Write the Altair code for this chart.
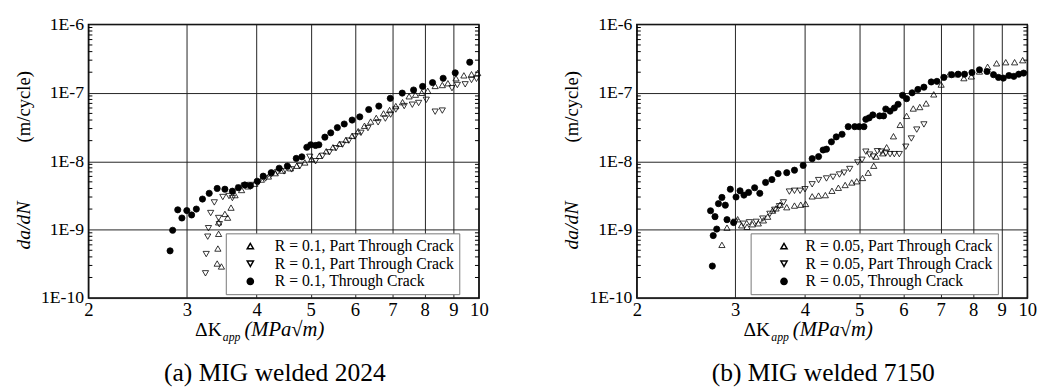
import altair as alt
import pandas as pd

# ---------------- data: panel (a) MIG welded 2024 ----------------
A_UP_K = [3.40, 3.46, 3.41, 3.42, 3.42, 3.51, 3.55, 3.60, 3.66, 3.76, 3.86, 3.97, 4.08, 4.20, 4.32,
          4.45, 4.60, 4.72, 4.88, 5.02, 5.18, 5.33, 5.48, 5.63, 5.78, 5.93, 6.08, 6.24, 6.40, 6.55,
          6.75, 6.92, 7.10, 7.30, 7.50, 7.70, 7.90, 8.10, 8.35, 8.60, 8.80, 9.10, 9.40, 9.70, 9.95]
A_UP_R = [3.2e-10, 2.9e-10, 5.3e-10, 8.7e-10, 1.28e-9, 1.7e-9, 1.5e-9, 2.1e-9, 3.2e-9, 3.8e-9,
          4.3e-9, 4.7e-9, 5.4e-9, 6.0e-9, 6.7e-9, 7.3e-9, 7.9e-9, 8.6e-9, 9.6e-9, 1.08e-8,
          1.2e-8, 1.4e-8, 1.6e-8, 1.8e-8, 2.05e-8, 2.35e-8, 2.75e-8, 3.3e-8, 3.8e-8, 4.3e-8,
          5.0e-8, 5.6e-8, 6.4e-8, 7.3e-8, 8.9e-8, 9.4e-8, 1.0e-7, 1.07e-7, 1.26e-7, 1.3e-7,
          1.38e-7, 1.63e-7, 1.8e-7, 1.87e-7, 1.95e-7]

A_DN_K = [3.24, 3.25, 3.27, 3.28, 3.31, 3.36, 3.42, 3.43, 3.48, 3.57, 3.62, 3.72, 3.80, 3.90, 4.03,
          4.15, 4.25, 4.36, 4.48, 4.62, 4.78, 4.98, 5.10, 5.25, 5.40, 5.55, 5.70, 5.85, 6.00, 6.15,
          6.33, 6.60, 6.80, 6.95, 7.10, 7.35, 7.60, 7.80, 8.05, 8.35, 8.60, 8.95, 9.15, 9.45, 9.70, 9.90]
A_DN_R = [2.3e-10, 4.4e-10, 7.9e-10, 1.05e-9, 1.75e-9, 2.5e-9, 1.48e-9, 1.2e-9, 3.0e-9, 3.1e-9,
          2.9e-9, 4.1e-9, 4.4e-9, 4.5e-9, 4.9e-9, 5.6e-9, 6.4e-9, 6.9e-9, 7.1e-9, 7.6e-9,
          8.5e-9, 1.16e-8, 1.0e-8, 1.2e-8, 1.35e-8, 1.55e-8, 1.75e-8, 2.0e-8, 2.3e-8, 2.6e-8,
          3.05e-8, 3.7e-8, 4.2e-8, 4.8e-8, 5.7e-8, 6.4e-8, 6.7e-8, 7.1e-8, 7.9e-8, 5.3e-8,
          5.5e-8, 1.17e-7, 1.3e-7, 1.33e-7, 1.54e-7, 1.6e-7]

A_C_K = [2.80, 2.83, 2.89, 2.94, 3.00, 3.06, 3.12, 3.20, 3.29, 3.40, 3.51, 3.62, 3.71, 3.81, 3.90,
         4.01, 4.11, 4.25, 4.39, 4.54, 4.71, 4.82, 4.92, 5.00, 5.10, 5.17, 5.30, 5.43, 5.58, 5.74,
         5.93, 6.12, 6.35, 6.62, 6.94, 7.29, 7.64, 7.93, 8.26, 8.63, 9.07, 9.63]
A_C_R = [4.9e-10, 9.8e-10, 1.95e-9, 1.48e-9, 1.9e-9, 1.64e-9, 2.0e-9, 2.8e-9, 3.4e-9, 4.0e-9,
         3.9e-9, 3.65e-9, 4.1e-9, 4.5e-9, 4.4e-9, 5.1e-9, 6.05e-9, 6.8e-9, 7.9e-9, 8.5e-9,
         1.1e-8, 1.16e-8, 1.6e-8, 1.74e-8, 1.7e-8, 1.74e-8, 2.25e-8, 2.6e-8, 3.1e-8, 3.5e-8,
         4.0e-8, 4.45e-8, 5.7e-8, 6.4e-8, 8.3e-8, 9.9e-8, 1.1e-7, 1.24e-7, 1.41e-7, 1.63e-7,
         1.96e-7, 2.8e-7]

# ---------------- data: panel (b) MIG welded 7150 ----------------
B_UP_K = [2.84, 2.90, 3.03, 3.08, 3.15, 3.22, 3.30, 3.37, 3.43, 3.50, 3.55, 3.61, 3.71, 3.83, 3.93,
          4.01, 4.12, 4.23, 4.35, 4.47, 4.59, 4.72, 4.85, 4.95, 5.07, 5.19, 5.31, 5.36, 5.51, 5.60,
          5.76, 5.92, 6.08, 6.25, 6.42, 6.59, 6.80, 7.01, 7.25, 7.47, 7.70, 7.94, 8.21, 8.49, 8.81,
          9.15, 9.49, 9.81]
B_UP_R = [6.0e-10, 1.07e-9, 1.42e-9, 1.16e-9, 1.1e-9, 1.2e-9, 1.24e-9, 1.37e-9, 1.55e-9, 1.9e-9,
          2.05e-9, 2.32e-9, 2.13e-9, 2.25e-9, 2.32e-9, 2.38e-9, 3.07e-9, 3.15e-9, 3.2e-9, 3.7e-9,
          4.1e-9, 4.5e-9, 4.9e-9, 5.1e-9, 5.7e-9, 6.8e-9, 8.6e-9, 1.17e-8, 1.31e-8, 1.6e-8,
          2.32e-8, 3.4e-8, 4.6e-8, 5.9e-8, 6.2e-8, 7.0e-8, 9.5e-8, 1.32e-7, 1.87e-7, 1.87e-7,
          1.64e-7, 1.74e-7, 2.05e-7, 2.4e-7, 2.7e-7, 2.8e-7, 2.8e-7, 3.0e-7]

B_DN_K = [3.00, 3.10, 3.18, 3.27, 3.36, 3.46, 3.53, 3.60, 3.66, 3.75, 3.83, 3.92, 4.00, 4.12, 4.23,
          4.37, 4.49, 4.61, 4.70, 4.81, 4.97, 5.06, 5.14, 5.22, 5.30, 5.39, 5.48, 5.58, 5.68, 5.78,
          5.90, 6.06, 6.20, 6.34, 6.53]
B_DN_R = [1.3e-9, 1.22e-9, 1.28e-9, 1.3e-9, 1.45e-9, 1.7e-9, 1.95e-9, 2.2e-9, 2.5e-9, 3.6e-9,
          3.7e-9, 3.7e-9, 3.9e-9, 4.6e-9, 5.3e-9, 5.6e-9, 5.9e-9, 6.4e-9, 6.8e-9, 7.7e-9,
          9.6e-9, 1.05e-8, 1.38e-8, 1.25e-8, 1.17e-8, 1.4e-8, 1.38e-8, 1.3e-8, 1.27e-8, 1.27e-8,
          1.27e-8, 1.63e-8, 2.15e-8, 2.9e-8, 3.45e-8]

B_C_K = [2.73, 2.74, 2.78, 2.71, 2.76, 2.80, 2.84, 2.88, 2.90, 2.94, 2.98, 3.01, 3.06, 3.11, 3.17,
         3.25, 3.32, 3.40, 3.49, 3.58, 3.71, 3.83, 3.97, 4.12, 4.23, 4.31, 4.37, 4.46, 4.55, 4.66,
         4.78, 4.91, 5.00, 5.10, 5.14, 5.21, 5.29, 5.44, 5.53, 5.58, 5.68, 5.78, 5.87, 5.98, 6.08,
         6.22, 6.37, 6.53, 6.73, 6.89, 7.09, 7.32, 7.52, 7.72, 7.96, 8.21, 8.47, 8.70, 8.88, 9.06,
         9.27, 9.46, 9.65, 9.85]
B_C_R = [2.94e-10, 8.2e-10, 1.02e-9, 1.89e-9, 1.55e-9, 2.4e-9, 2.96e-9, 2.28e-9, 1.4e-9, 3.9e-9,
         1.27e-9, 3.0e-9, 3.7e-9, 3.2e-9, 3.5e-9, 4.1e-9, 3.4e-9, 4.9e-9, 5.4e-9, 6.6e-9,
         6.8e-9, 7.4e-9, 8.7e-9, 1.09e-8, 1.17e-8, 1.46e-8, 1.5e-8, 1.92e-8, 2.27e-8, 2.48e-8,
         3.2e-8, 3.2e-8, 3.2e-8, 3.2e-8, 4.1e-8, 4.3e-8, 4.75e-8, 4.6e-8, 4.6e-8, 5.8e-8,
         5.4e-8, 6.0e-8, 6.8e-8, 9.2e-8, 8.2e-8, 1.0e-7, 1.12e-7, 1.21e-7, 1.44e-7, 1.47e-7,
         1.68e-7, 1.84e-7, 1.87e-7, 1.87e-7, 1.98e-7, 2.17e-7, 2.05e-7, 1.84e-7, 1.68e-7, 1.64e-7,
         1.79e-7, 1.74e-7, 1.87e-7, 1.94e-7]

X_TICKS = [2, 3, 4, 5, 6, 7, 8, 9, 10]
Y_TICKS = [1e-10, 1e-9, 1e-8, 1e-7, 1e-6]
Y_MINOR = [k * 10.0 ** e for e in range(-10, -6) for k in range(2, 10)]

W, H = 398, 279
SERIF = "Liberation Serif"


def text_layer(s, x, y, size, style="normal", align="center", angle=0, baseline="middle"):
    props = dict(font=SERIF, fontSize=size, fontStyle=style, align=align,
                 baseline=baseline, color="black")
    if angle:
        props["angle"] = angle
    return alt.Chart(alt.Data(values=[{"t": s}])).mark_text(**props).encode(
        text=alt.Text("t:N"), x=alt.value(x), y=alt.value(y)
    )


def panel(tag, up_k, up_r, dn_k, dn_r, c_k, c_r, rtext, legend_x, sym_off, lab_off, caption):
    series = [tag + "u", tag + "d", tag + "c"]
    df = pd.DataFrame({
        "K": up_k + dn_k + c_k,
        "rate": up_r + dn_r + c_r,
        "series": [series[0]] * len(up_k) + [series[1]] * len(dn_k) + [series[2]] * len(c_k),
    })
    xs = alt.Scale(type="log", domain=[2, 10], nice=False)
    ys = alt.Scale(type="log", domain=[1e-10, 1e-6], nice=False)

    part = f"R = {rtext}, Part Through Crack"
    thru = f"R = {rtext}, Through Crack"
    lab_expr = f"datum.value == '{series[2]}' ? '{thru}' : '{part}'"
    leg = alt.Legend(
        title=None, orient="none", legendX=legend_x, legendY=213,
        fillColor="white", strokeColor="#777777", padding=5,
        labelFont=SERIF, labelFontSize=16, labelColor="black", labelExpr=lab_expr,
        labelLimit=400, symbolSize=40, symbolOffset=sym_off,
        rowPadding=2, labelOffset=lab_off,
    )

    pts = alt.Chart(df).mark_point(filled=True, stroke="black", strokeWidth=0.8,
                                   opacity=1, size=40).encode(
        x=alt.X("K:Q", scale=xs, axis=alt.Axis(
            values=X_TICKS, format="d", grid=True, gridColor="#222222", gridWidth=1,
            ticks=False, domain=False, title=None, labelFont=SERIF, labelFontSize=19,
            labelColor="black", labelPadding=3, labelFlush=False, labelOverlap=False)),
        y=alt.Y("rate:Q", scale=ys, axis=alt.Axis(
            values=Y_TICKS, labelExpr="'1E' + round(log(datum.value) / LN10)",
            grid=True, gridColor="#222222", gridWidth=1, ticks=False, domain=False,
            title=None, labelFont=SERIF, labelFontSize=18, labelColor="black",
            labelPadding=5, labelFlush=False, labelOverlap=False)),
        shape=alt.Shape("series:N", scale=alt.Scale(
            domain=series, range=["triangle-up", "triangle-down", "circle"]), legend=leg),
        fill=alt.Fill("series:N", scale=alt.Scale(
            domain=series, range=["transparent", "transparent", "black"]), legend=leg),
    )

    # minor log ticks pointing into the frame on both sides
    minor = pd.DataFrame({"m": Y_MINOR})
    tick_l = alt.Chart(minor).mark_rule(color="black", strokeWidth=1).encode(
        y=alt.Y("m:Q", scale=ys, axis=None), x=alt.value(0), x2=alt.value(4))
    tick_r = alt.Chart(minor).mark_rule(color="black", strokeWidth=1).encode(
        y=alt.Y("m:Q", scale=ys, axis=None), x=alt.value(W - 4), x2=alt.value(W))

    texts = [
        text_layer("(m/cycle)", -66, 84, 19, angle=270),
        text_layer("da/dN", -66, 205, 20, style="italic", angle=270),
        text_layer("\u0394K", 136, 318, 20, align="right", baseline="alphabetic"),
        text_layer("app", 137, 323, 12, style="italic", align="left", baseline="alphabetic"),
        text_layer("(MPa\u221am)", 159, 318, 21, style="italic", align="left", baseline="alphabetic"),
        text_layer(caption, 190, 364, 26, baseline="alphabetic"),
    ]

    return alt.layer(pts, tick_l, tick_r, *texts).resolve_axis(
        y="independent"
    ).properties(width=W, height=H)


pa = panel("a", A_UP_K, A_UP_R, A_DN_K, A_DN_R, A_C_K, A_C_R, "0.1", 140, 12, 17,
           "(a) MIG welded 2024")
pb = panel("b", B_UP_K, B_UP_R, B_DN_K, B_DN_R, B_C_K, B_C_R, "0.05", 116, 21, 14,
           "(b) MIG welded 7150")

chart = alt.hconcat(pa, pb, spacing=73).resolve_scale(
    shape="independent", fill="independent"
).resolve_legend(
    shape="independent", fill="independent"
).properties(
    padding={"left": 5, "top": 3, "right": 5, "bottom": 0}
).configure_view(stroke="black", strokeWidth=1.5)

chart.save("out.html", embed_options={"renderer": "svg", "actions": False})
